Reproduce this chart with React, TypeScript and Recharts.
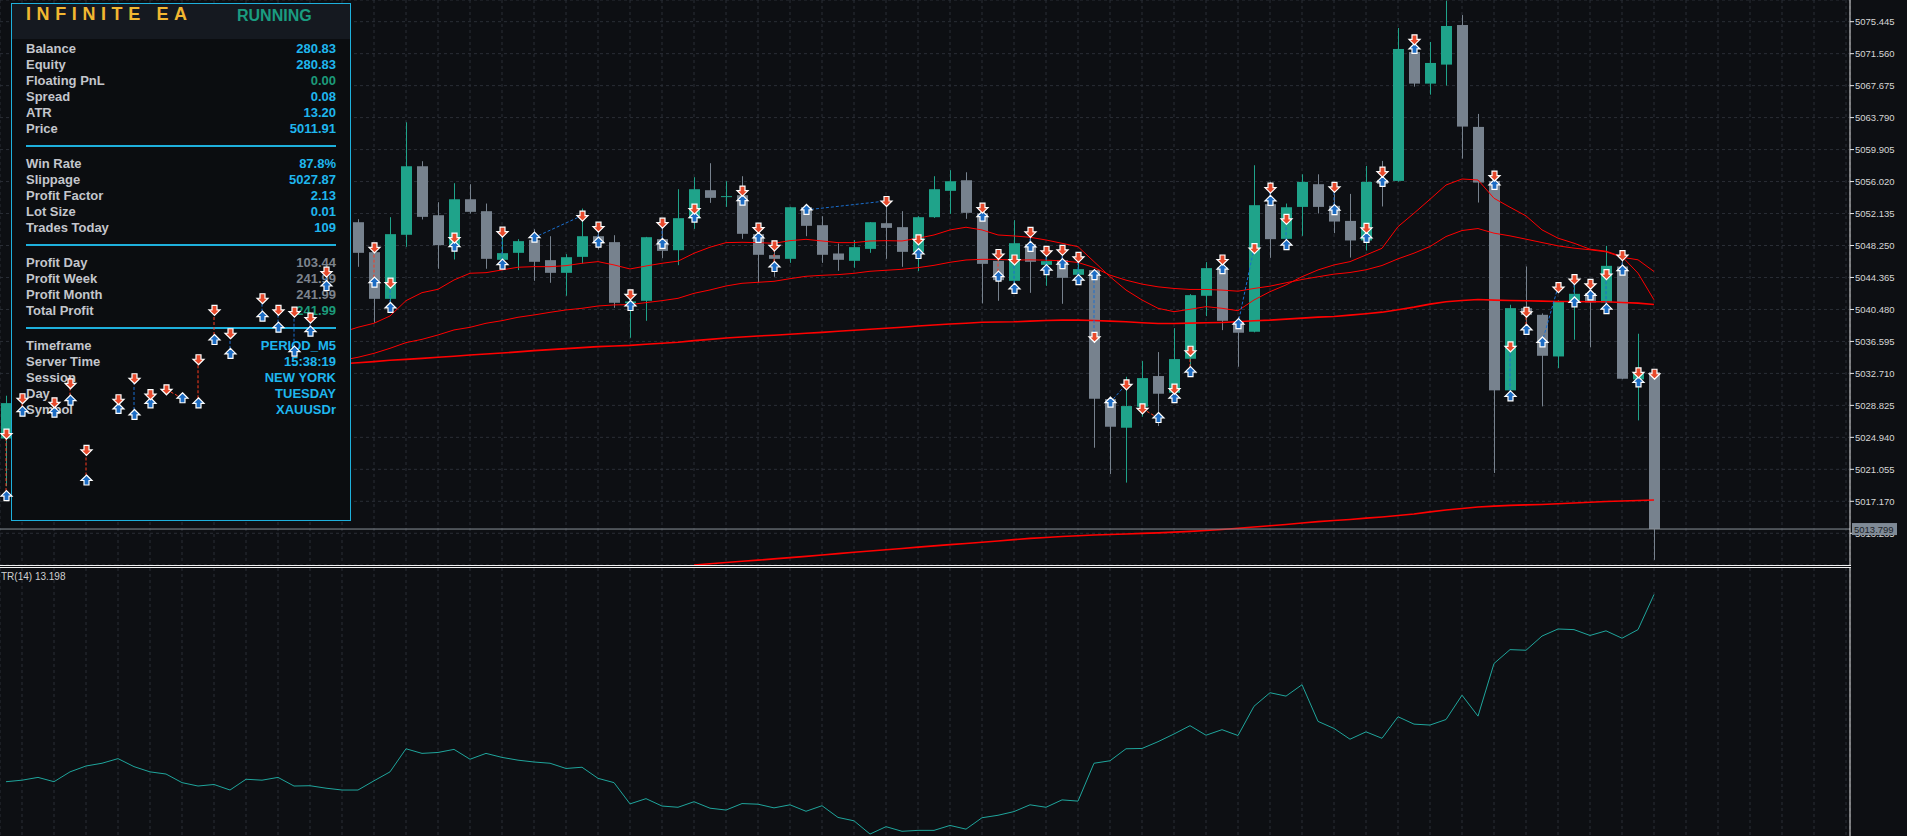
import React from "react";
import {
  ComposedChart,
  Bar,
  Line,
  Scatter,
  XAxis,
  YAxis,
  CartesianGrid,
  ReferenceLine,
} from "recharts";

// layout of the terminal window
const W = 1907;
const PRICE_H = 565;
const ATR_TOP = 567;
const ATR_H = 269;
const AXIS_W = 57;

const BG = "#0d0f13";
const GRID = "#2a2e36";
const BULL = "#1fa38a";
const BEAR = "#77828e";
const MA_RED = "#ff0000";

// XAUUSDr M5 candles, index 0 = leftmost bar on screen
const opens = [
  5024.8, 5029.1, 5028.0, 5026.8, 5029.2, 5031.0, 5021.5, 5026.0, 5029.4, 5028.0,
  5030.2, 5029.6, 5029.2, 5034.2, 5040.2, 5035.4, 5038.2, 5041.6, 5038.6, 5040.0,
  5039.0, 5045.0, 5051.08, 5047.44, 5041.77, 5049.55, 5057.88, 5051.93, 5048.17, 5053.87,
  5052.42, 5046.51, 5047.36, 5048.94, 5046.47, 5044.93, 5046.87, 5049.38, 5048.66, 5041.25,
  5041.53, 5049.02, 5047.68, 5051.53, 5054.97, 5054.15, 5054.36, 5049.63, 5047.08, 5046.63,
  5052.9, 5050.72, 5047.28, 5046.39, 5047.84, 5050.96, 5050.48, 5047.48, 5051.69, 5054.89,
  5056.18, 5052.17, 5046.39, 5043.96, 5048.41, 5045.9, 5046.47, 5044.69, 5045.26, 5029.59,
  5026.11, 5028.66, 5032.39, 5030.36, 5034.49, 5042.14, 5045.58, 5038.98, 5037.77, 5053.27,
  5049.06, 5052.94, 5055.7, 5053.07, 5051.24, 5048.86, 5056.22, 5056.1, 5071.76, 5067.92,
  5070.23, 5075.04, 5062.66, 5056.1, 5030.65, 5040.64, 5039.83, 5034.77, 5041.45, 5042.46,
  5041.33, 5045.7, 5031.98, 5032.87,
];
const highs = [
  5030.0, 5030.5, 5029.0, 5029.8, 5032.0, 5031.4, 5026.5, 5030.0, 5032.5, 5030.6,
  5031.2, 5030.4, 5034.8, 5040.8, 5040.6, 5038.6, 5042.3, 5041.9, 5040.7, 5040.2,
  5045.5, 5051.6, 5051.45, 5047.9, 5051.69, 5063.22, 5058.49, 5053.51, 5055.82, 5055.7,
  5053.35, 5049.5, 5049.02, 5050.23, 5049.38, 5047.2, 5052.74, 5050.52, 5049.5, 5042.42,
  5049.3, 5050.72, 5055.09, 5056.55, 5058.25, 5056.06, 5056.67, 5050.2, 5048.09, 5052.95,
  5053.1, 5051.81, 5048.49, 5048.9, 5051.1, 5054.16, 5052.42, 5051.81, 5056.67, 5057.4,
  5057.15, 5052.9, 5047.3, 5051.33, 5050.11, 5047.48, 5047.2, 5046.67, 5045.3, 5029.88,
  5032.3, 5034.21, 5035.3, 5038.21, 5042.34, 5046.23, 5046.6, 5039.6, 5058.0, 5056.0,
  5053.35, 5056.9, 5056.9, 5054.5, 5054.52, 5057.92, 5058.53, 5074.68, 5073.62, 5072.98,
  5078.0, 5076.25, 5064.24, 5056.3, 5041.05, 5045.7, 5040.0, 5041.6, 5044.08, 5042.87,
  5048.21, 5046.5, 5037.53, 5032.9,
];
const lows = [
  5019.0, 5027.5, 5026.0, 5026.2, 5028.6, 5019.2, 5020.8, 5025.5, 5027.2, 5027.4,
  5029.0, 5028.4, 5028.6, 5033.8, 5034.6, 5035.0, 5037.8, 5037.9, 5035.0, 5037.4,
  5038.6, 5044.6, 5045.66, 5038.86, 5040.4, 5048.09, 5051.41, 5045.42, 5046.55, 5052.13,
  5045.42, 5045.66, 5045.26, 5043.96, 5043.72, 5042.14, 5046.06, 5047.76, 5040.68, 5037.04,
  5039.1, 5046.71, 5045.86, 5050.27, 5053.43, 5052.94, 5049.06, 5043.76, 5044.45, 5046.14,
  5049.38, 5046.14, 5045.18, 5045.54, 5047.36, 5046.63, 5045.66, 5045.14, 5051.6, 5052.09,
  5051.49, 5041.21, 5041.53, 5042.83, 5042.5, 5043.35, 5041.17, 5044.0, 5023.68, 5020.49,
  5019.44, 5027.45, 5026.31, 5029.47, 5033.52, 5039.67, 5037.97, 5033.52, 5037.7, 5046.75,
  5049.0, 5049.42, 5052.14, 5049.75, 5046.79, 5047.64, 5052.99, 5056.0, 5067.55, 5066.58,
  5067.68, 5058.81, 5053.47, 5020.61, 5030.6, 5038.62, 5028.7, 5033.36, 5036.8, 5035.87,
  5041.3, 5032.0, 5027.0, 5010.05,
];
const closes = [
  5029.1, 5028.0, 5026.8, 5029.2, 5031.0, 5021.5, 5026.0, 5029.4, 5028.0, 5030.2,
  5029.6, 5029.2, 5034.2, 5040.2, 5035.4, 5038.2, 5041.6, 5038.6, 5040.0, 5039.0,
  5045.0, 5051.1, 5047.36, 5041.77, 5049.63, 5057.88, 5051.73, 5048.29, 5053.87, 5052.34,
  5046.63, 5047.32, 5048.78, 5046.27, 5044.93, 5046.83, 5049.38, 5048.49, 5041.29, 5041.45,
  5049.26, 5047.6, 5051.57, 5055.09, 5054.04, 5054.25, 5049.67, 5047.12, 5046.63, 5052.9,
  5050.64, 5047.12, 5046.51, 5048.05, 5051.08, 5050.39, 5047.48, 5051.69, 5055.09, 5056.06,
  5052.22, 5046.02, 5044.04, 5048.53, 5046.27, 5046.35, 5044.32, 5045.38, 5029.63, 5026.23,
  5028.74, 5032.14, 5030.24, 5034.45, 5042.22, 5045.5, 5039.1, 5037.65, 5053.15, 5049.02,
  5052.9, 5055.98, 5052.94, 5051.16, 5048.86, 5055.98, 5055.74, 5072.13, 5067.92, 5070.43,
  5074.92, 5062.7, 5055.9, 5030.65, 5040.64, 5039.83, 5034.85, 5041.45, 5042.38, 5041.33,
  5045.78, 5032.06, 5032.87, 5013.8,
];

// moving averages, first value belongs to bar MA_START / LONG_START
const MA_START = 21;
const maFast = [
  5037.7, 5038.32, 5038.8, 5039.69, 5041.55, 5042.52, 5042.93, 5044.06, 5044.88, 5044.95,
  5045.28, 5045.61, 5045.68, 5045.68, 5045.8, 5046.09, 5046.29, 5045.89, 5045.4, 5045.76,
  5046.09, 5046.35, 5047.31, 5048.04, 5048.6, 5048.64, 5048.6, 5048.52, 5048.84, 5049.0,
  5048.8, 5048.6, 5048.6, 5048.8, 5048.84, 5048.8, 5049.13, 5049.53, 5050.14, 5050.47,
  5050.14, 5049.53, 5049.41, 5049.25, 5048.92, 5048.52, 5048.11, 5046.29, 5044.46, 5042.84,
  5041.63, 5040.62, 5040.21, 5040.5, 5040.82, 5040.62, 5040.33, 5041.63, 5042.64, 5043.46,
  5044.46, 5045.28, 5045.89, 5046.29, 5047.1, 5047.91, 5050.54, 5052.17, 5053.87, 5055.6,
  5056.33, 5056.21, 5053.99, 5052.9, 5051.85, 5050.15, 5049.14, 5048.53, 5047.8, 5047.56,
  5046.91, 5044.89, 5041.65,
];
const maMid = [
  5034.3, 5034.67, 5035.15, 5035.76, 5036.45, 5036.85, 5037.38, 5037.99, 5038.31, 5038.8,
  5039.12, 5039.53, 5039.81, 5040.13, 5040.42, 5040.62, 5040.9, 5041.03, 5041.07, 5041.31,
  5041.55, 5041.83, 5042.44, 5042.85, 5043.33, 5043.66, 5043.78, 5043.9, 5044.22, 5044.51,
  5044.63, 5044.71, 5044.87, 5045.12, 5045.24, 5045.36, 5045.56, 5045.84, 5046.21, 5046.49,
  5046.57, 5046.57, 5046.47, 5046.51, 5046.47, 5046.39, 5046.19, 5045.58, 5044.65, 5044.04,
  5043.56, 5043.23, 5043.03, 5042.91, 5042.91, 5042.83, 5042.7, 5043.03, 5043.31, 5043.72,
  5044.12, 5044.45, 5044.77, 5044.97, 5045.3, 5045.82, 5046.63, 5047.32, 5048.13, 5049.34,
  5050.07, 5050.31, 5049.75, 5049.42, 5049.02, 5048.61, 5048.21, 5047.93, 5047.73, 5047.48,
  5046.83, 5046.51, 5045.09,
];
const maSlow = [
  5033.88, 5034.0, 5034.14, 5034.3, 5034.42, 5034.54, 5034.67, 5034.79, 5034.95, 5035.07,
  5035.19, 5035.32, 5035.48, 5035.6, 5035.72, 5035.84, 5035.96, 5036.04, 5036.12, 5036.25,
  5036.37, 5036.49, 5036.69, 5036.85, 5037.01, 5037.14, 5037.26, 5037.34, 5037.46, 5037.58,
  5037.7, 5037.83, 5037.95, 5038.07, 5038.19, 5038.31, 5038.47, 5038.59, 5038.71, 5038.8,
  5038.92, 5038.96, 5038.98, 5039.06, 5039.14, 5039.18, 5039.18, 5039.14, 5039.06, 5038.98,
  5038.86, 5038.78, 5038.78, 5038.82, 5038.86, 5038.9, 5038.98, 5039.1, 5039.18, 5039.31,
  5039.43, 5039.55, 5039.63, 5039.79, 5039.95, 5040.15, 5040.44, 5040.76, 5041.13, 5041.41,
  5041.57, 5041.69, 5041.61, 5041.57, 5041.53, 5041.49, 5041.45, 5041.45, 5041.41, 5041.41,
  5041.33, 5041.25, 5041.09,
];
const LONG_START = 43;
const maLong = [
  5009.43, 5009.58, 5009.73, 5009.88, 5010.02, 5010.17, 5010.33, 5010.48, 5010.65, 5010.81,
  5010.98, 5011.14, 5011.29, 5011.44, 5011.6, 5011.75, 5011.9, 5012.05, 5012.2, 5012.35,
  5012.51, 5012.66, 5012.78, 5012.9, 5012.99, 5013.08, 5013.14, 5013.2, 5013.27, 5013.33,
  5013.42, 5013.51, 5013.63, 5013.75, 5013.9, 5014.05, 5014.2, 5014.36, 5014.53, 5014.7,
  5014.83, 5014.96, 5015.12, 5015.27, 5015.45, 5015.63, 5015.88, 5016.12, 5016.3, 5016.48,
  5016.58, 5016.67, 5016.73, 5016.79, 5016.88, 5016.97, 5017.06, 5017.15, 5017.21, 5017.27,
  5017.33,
];

// ATR(14) sub window
const atr = [
  7.12, 7.17, 7.26, 7.12, 7.44, 7.63, 7.72, 7.87, 7.61, 7.44,
  7.37, 7.09, 6.98, 7.03, 6.85, 7.2, 7.17, 7.26, 6.98, 6.99,
  6.91, 6.85, 6.85, 7.15, 7.44, 8.19, 8.04, 8.07, 8.17, 7.85,
  8.04, 7.91, 7.82, 7.76, 7.72, 7.55, 7.59, 7.23, 7.09, 6.4,
  6.57, 6.33, 6.29, 6.47, 6.26, 6.2, 6.41, 6.39, 6.27, 6.37,
  6.16, 6.34, 5.96, 5.85, 5.42, 5.66, 5.51, 5.54, 5.54, 5.7,
  5.58, 5.95, 6.03, 6.15, 6.37, 6.29, 6.53, 6.49, 7.72, 7.8,
  8.19, 8.2, 8.42, 8.67, 8.94, 8.63, 8.81, 8.62, 9.57, 10.01,
  9.9, 10.27, 9.08, 8.85, 8.5, 8.74, 8.53, 9.23, 8.99, 8.96,
  9.14, 9.93, 9.25, 10.96, 11.41, 11.39, 11.85, 12.08, 12.06, 11.87,
  12.02, 11.78, 12.06, 13.198,
];

// closed trades: [buy bar, buy price, sell bar, sell price, link colour]
const trades: [number, number, number, number, "r" | "b"][] = [
  [0, 5017.8, 0, 5025.4, "r"], [1, 5028.06, 1, 5029.69, "r"], [3, 5027.94, 3, 5029.2, "b"],
  [4, 5029.4, 4, 5031.51, "r"], [5, 5019.7, 5, 5023.41, "r"], [7, 5028.39, 7, 5029.57, "b"],
  [8, 5027.66, 8, 5032.12, "b"], [9, 5029.08, 9, 5030.18, "r"], [11, 5029.69, 10, 5030.78, "r"],
  [12, 5029.08, 12, 5034.43, "r"], [13, 5036.77, 13, 5040.42, "r"], [14, 5035.08, 14, 5037.59, "b"],
  [16, 5039.6, 16, 5041.84, "b"], [17, 5038.27, 17, 5040.42, "b"], [18, 5035.35, 18, 5040.21, "b"],
  [19, 5037.78, 19, 5039.48, "b"], [20, 5043.33, 20, 5045.07, "b"], [23, 5043.74, 23, 5048.03, "r"],
  [24, 5040.66, 24, 5043.74, "b"], [28, 5048.11, 28, 5049.21, "b"], [31, 5045.93, 31, 5049.93, "b"],
  [33, 5049.21, 36, 5051.88, "b"], [37, 5048.6, 37, 5050.54, "b"], [39, 5040.9, 39, 5042.32, "b"],
  [41, 5048.44, 41, 5051.03, "b"], [43, 5051.64, 43, 5052.73, "b"], [46, 5053.7, 46, 5054.92, "b"],
  [47, 5049.17, 47, 5050.42, "b"], [48, 5045.64, 48, 5048.27, "r"], [50, 5052.57, 55, 5053.66, "b"],
  [57, 5047.22, 57, 5049.0, "b"], [61, 5051.76, 61, 5052.85, "b"], [62, 5044.47, 62, 5047.22, "r"],
  [63, 5042.99, 63, 5046.55, "b"], [64, 5048.09, 64, 5049.91, "b"], [65, 5045.26, 65, 5047.6, "b"],
  [66, 5045.98, 66, 5047.72, "b"], [67, 5044.04, 67, 5046.87, "b"], [68, 5044.65, 68, 5037.16, "b"],
  [69, 5029.15, 70, 5031.37, "b"], [72, 5027.29, 71, 5028.46, "r"], [73, 5029.71, 73, 5030.85, "b"],
  [74, 5032.87, 74, 5035.46, "r"], [76, 5045.38, 76, 5046.55, "b"], [77, 5038.7, 78, 5047.93, "b"],
  [79, 5053.67, 79, 5055.29, "b"], [80, 5048.29, 80, 5051.49, "b"], [83, 5052.54, 83, 5055.37, "b"],
  [85, 5049.18, 85, 5050.4, "b"], [86, 5055.98, 86, 5057.23, "b"], [88, 5072.13, 88, 5073.3, "b"],
  [93, 5055.62, 93, 5056.75, "b"], [94, 5029.92, 94, 5035.99, "b"], [95, 5038.01, 95, 5040.2, "r"],
  [96, 5036.47, 97, 5043.19, "b"], [98, 5041.33, 98, 5044.16, "b"], [99, 5042.18, 99, 5043.6, "b"],
  [100, 5040.52, 100, 5044.77, "b"], [101, 5045.21, 101, 5047.08, "b"], [102, 5031.62, 102, 5032.83, "b"],
];
const openSell = { i: 103, p: 5032.67 };

const priceTicks = [
  5075.445, 5071.56, 5067.675, 5063.79, 5059.905, 5056.02, 5052.135, 5048.25,
  5044.365, 5040.48, 5036.595, 5032.71, 5028.825, 5024.94, 5021.055, 5017.17, 5013.285,
];
const lastPrice = 5013.799;
const atrTicks = [14.061];

const X_DOMAIN = [-0.375, 115.25];
const PRICE_DOMAIN = [5009.43, 5078.08];
const ATR_DOMAIN = [5.357, 14.061];
const gridTicks = Array.from({ length: 58 }, (_, k) => 2 * k + 1);

const rows = opens.map((o, i) => ({
  i,
  o,
  h: highs[i],
  l: lows[i],
  c: closes[i],
  range: [lows[i], highs[i]],
  fast: i >= MA_START ? maFast[i - MA_START] : null,
  mid: i >= MA_START ? maMid[i - MA_START] : null,
  slow: i >= MA_START ? maSlow[i - MA_START] : null,
  long: i >= LONG_START ? maLong[i - LONG_START] : null,
  atr: atr[i],
}));

const buyPts = trades.map((t) => ({ i: t[0], p: t[1] }));
const sellPts = trades.map((t) => ({ i: t[2], p: t[3] })).concat([openSell]);

const FONT = "'Liberation Sans', Arial, sans-serif";

function Candle(props: any) {
  const { x, y, width, height, payload } = props;
  if (!payload || x == null) return null;
  const { o, h, l, c } = payload;
  const color = c >= o ? BULL : BEAR;
  const cx = Math.round(x + width / 2);
  const span = h - l || 1;
  const py = (v: number) => y + ((h - v) / span) * height;
  const top = py(Math.max(o, c));
  const bot = py(Math.min(o, c));
  return (
    <g>
      <line x1={cx + 0.5} x2={cx + 0.5} y1={y} y2={y + height} stroke={color} strokeWidth={1} />
      <rect x={cx - 5} y={top} width={11} height={Math.max(1, bot - top)} fill={color} />
    </g>
  );
}

function UpArrow(props: any) {
  const { cx, cy } = props;
  if (cx == null) return null;
  return (
    <path
      transform={`translate(${cx + 0.5},${cy})`}
      d="M0,-5.5 L5.5,0 L2.5,0 L2.5,4.5 L-2.5,4.5 L-2.5,0 L-5.5,0 Z"
      fill="#1c6cc4"
      stroke="#ffffff"
      strokeWidth={1.2}
    />
  );
}

function DownArrow(props: any) {
  const { cx, cy } = props;
  if (cx == null) return null;
  return (
    <path
      transform={`translate(${cx + 0.5},${cy})`}
      d="M0,5.5 L5.5,0 L2.5,0 L2.5,-4.5 L-2.5,-4.5 L-2.5,0 L-5.5,0 Z"
      fill="#e84a2c"
      stroke="#ffffff"
      strokeWidth={1.2}
    />
  );
}

function PriceTag(props: any) {
  const vb = props.viewBox || {};
  const x = (vb.x || 0) + (vb.width || 0) + 2;
  const y = vb.y || 0;
  return (
    <g>
      <rect x={x} y={y - 6} width={45} height={12} fill="#7f8a96" />
      <text x={x + 2} y={y + 3.5} fontSize={9.5} fill="#1b1f27" fontFamily={FONT}>
        {lastPrice.toFixed(3)}
      </text>
    </g>
  );
}

function AtrTick(props: any) {
  const { x, y, payload } = props;
  return (
    <text x={x + 1} y={y + 9} fontSize={10} fill="#d8d8d8" fontFamily={FONT}>
      {Number(payload.value).toFixed(3)}
    </text>
  );
}

const rowsTop = [
  { label: "Balance", value: "280.83", color: "#1fb6ee" },
  { label: "Equity", value: "280.83", color: "#1fb6ee" },
  { label: "Floating PnL", value: "0.00", color: "#1c9b7a" },
  { label: "Spread", value: "0.08", color: "#1fb6ee" },
  { label: "ATR", value: "13.20", color: "#1fb6ee" },
  { label: "Price", value: "5011.91", color: "#1fb6ee" },
];
const rowsStats = [
  { label: "Win Rate", value: "87.8%", color: "#1fb6ee" },
  { label: "Slippage", value: "5027.87", color: "#1fb6ee" },
  { label: "Profit Factor", value: "2.13", color: "#1fb6ee" },
  { label: "Lot Size", value: "0.01", color: "#1fb6ee" },
  { label: "Trades Today", value: "109", color: "#1fb6ee" },
];
const rowsProfit = [
  { label: "Profit Day", value: "103.44", color: "#7d848d" },
  { label: "Profit Week", value: "241.99", color: "#7d848d" },
  { label: "Profit Month", value: "241.99", color: "#7d848d" },
  { label: "Total Profit", value: "241.99", color: "#1c9b7a" },
];
const rowsInfo = [
  { label: "Timeframe", value: "PERIOD_M5", color: "#1fb6ee" },
  { label: "Server Time", value: "15:38:19", color: "#1fb6ee" },
  { label: "Session", value: "NEW YORK", color: "#1fb6ee" },
  { label: "Day", value: "TUESDAY", color: "#1fb6ee" },
  { label: "Symbol", value: "XAUUSDr", color: "#1fb6ee" },
];

function PanelRows({ items, top }: { items: any[]; top: number }) {
  return (
    <>
      {items.map((r, k) => (
        <div
          key={r.label}
          style={{
            position: "absolute",
            left: 14,
            right: 14,
            top: top + k * 16,
            height: 16,
            lineHeight: "16px",
            fontSize: 13,
            fontWeight: 700,
          }}
        >
          <span style={{ color: "#c3c6cc" }}>{r.label}</span>
          <span style={{ position: "absolute", right: 0, color: r.color }}>{r.value}</span>
        </div>
      ))}
    </>
  );
}

function Divider({ top }: { top: number }) {
  return (
    <div style={{ position: "absolute", left: 14, right: 14, top, height: 2, background: "#1eb0dc" }} />
  );
}

function InfoPanel() {
  return (
    <div
      style={{
        position: "absolute",
        left: 11,
        top: 3,
        width: 340,
        height: 518,
        boxSizing: "border-box",
        border: "1px solid #1eb0dc",
        background: "#0b0d10",
        fontFamily: FONT,
      }}
    >
      <div style={{ position: "absolute", left: 0, right: 0, top: 0, height: 35, background: "#151920" }} />
      <div
        style={{
          position: "absolute",
          left: 14,
          top: 0,
          height: 20,
          lineHeight: "20px",
          fontSize: 18,
          fontWeight: 700,
          letterSpacing: 5.6,
          color: "#f2b731",
        }}
      >
        INFINITE EA
      </div>
      <div
        style={{
          position: "absolute",
          left: 225,
          top: 2,
          height: 20,
          lineHeight: "20px",
          fontSize: 16,
          fontWeight: 700,
          color: "#1a9c80",
        }}
      >
        RUNNING
      </div>
      <PanelRows items={rowsTop} top={37.3} />
      <Divider top={141} />
      <PanelRows items={rowsStats} top={152.3} />
      <Divider top={240} />
      <PanelRows items={rowsProfit} top={251.3} />
      <Divider top={323.3} />
      <PanelRows items={rowsInfo} top={334.3} />
    </div>
  );
}

export default function App() {
  return (
    <div style={{ position: "relative", width: W, height: 836, overflow: "hidden", background: BG }}>
      <style>{`body{margin:0;background:${BG};overflow:hidden}`}</style>

      {/* price window */}
      <div style={{ position: "absolute", left: 0, top: 0 }}>
        <ComposedChart
          width={W}
          height={PRICE_H}
          data={rows}
          margin={{ top: 0, right: 0, bottom: 0, left: 0 }}
          style={{ fontFamily: FONT }}
        >
          <CartesianGrid stroke={GRID} strokeDasharray="3 3" />
          <XAxis type="number" dataKey="i" domain={X_DOMAIN} ticks={gridTicks} allowDataOverflow hide />
          <YAxis
            orientation="right"
            width={AXIS_W}
            domain={PRICE_DOMAIN}
            allowDataOverflow
            ticks={priceTicks}
            interval={0}
            tickFormatter={(v: number) => v.toFixed(3)}
            tick={{ fill: "#d6d6d6", fontSize: 9.5 }}
            tickSize={4}
            tickMargin={1}
            axisLine={{ stroke: "#e6e6e6" }}
            tickLine={{ stroke: "#e6e6e6" }}
          />
          <Line dataKey="long" stroke={MA_RED} strokeWidth={1.6} dot={false} isAnimationActive={false} />
          <Line dataKey="slow" stroke={MA_RED} strokeWidth={1.6} dot={false} isAnimationActive={false} />
          <Line dataKey="mid" stroke={MA_RED} strokeWidth={1} dot={false} isAnimationActive={false} />
          <Line dataKey="fast" stroke={MA_RED} strokeWidth={1} dot={false} isAnimationActive={false} />
          <Bar dataKey="range" barSize={11} shape={Candle} isAnimationActive={false} />
          <ReferenceLine y={lastPrice} stroke="#8a9099" strokeWidth={1} />
        </ComposedChart>
      </div>

      <InfoPanel />

      {/* trade history arrows and the bid tag sit above the panel and the scale */}
      <div style={{ position: "absolute", left: 0, top: 0, pointerEvents: "none" }}>
        <ComposedChart
          width={W}
          height={PRICE_H}
          data={rows}
          margin={{ top: 0, right: AXIS_W, bottom: 0, left: 0 }}
        >
          <XAxis type="number" dataKey="i" domain={X_DOMAIN} allowDataOverflow hide />
          <YAxis domain={PRICE_DOMAIN} allowDataOverflow hide />
          {trades.map((t, k) => (
            <ReferenceLine
              key={k}
              segment={[
                { x: t[0], y: t[1] },
                { x: t[2], y: t[3] },
              ]}
              stroke={t[4] === "r" ? "#ff3b1f" : "#1a6fd0"}
              strokeWidth={1}
              strokeDasharray="3 2"
            />
          ))}
          <ReferenceLine
            y={lastPrice}
            stroke="none"
            label={(p: any) => <PriceTag {...p} />}
          />
          <Scatter data={buyPts} dataKey="p" shape={UpArrow} isAnimationActive={false} />
          <Scatter data={sellPts} dataKey="p" shape={DownArrow} isAnimationActive={false} />
        </ComposedChart>
      </div>

      {/* window separators */}
      <div style={{ position: "absolute", left: 0, top: 565, width: 1851, height: 1, background: "#f0f0f0" }} />
      <div style={{ position: "absolute", left: 0, top: 567, width: 1851, height: 1, background: "#f0f0f0" }} />

      {/* ATR window */}
      <div style={{ position: "absolute", left: 0, top: ATR_TOP }}>
        <ComposedChart
          width={W}
          height={ATR_H}
          data={rows}
          margin={{ top: 1, right: 0, bottom: 0, left: 0 }}
          style={{ fontFamily: FONT }}
        >
          <CartesianGrid stroke={GRID} strokeDasharray="3 3" horizontal={false} />
          <XAxis type="number" dataKey="i" domain={X_DOMAIN} ticks={gridTicks} allowDataOverflow hide />
          <YAxis
            orientation="right"
            width={AXIS_W}
            domain={ATR_DOMAIN}
            allowDataOverflow
            ticks={atrTicks}
            tick={<AtrTick />}
            tickSize={4}
            tickMargin={1}
            axisLine={{ stroke: "#e6e6e6" }}
            tickLine={{ stroke: "#e6e6e6" }}
          />
          <Line dataKey="atr" stroke="#1fa59c" strokeWidth={1} dot={false} isAnimationActive={false} />
        </ComposedChart>
      </div>
      <div
        style={{
          position: "absolute",
          left: 1,
          top: 571,
          fontSize: 10,
          lineHeight: "12px",
          color: "#d0d0d0",
          fontFamily: FONT,
        }}
      >
        TR(14) 13.198
      </div>
    </div>
  );
}
